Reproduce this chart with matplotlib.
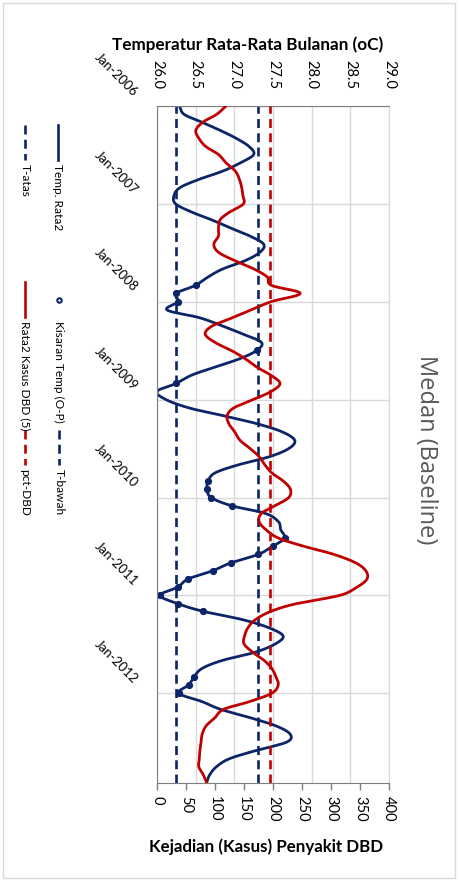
import numpy as np
import pandas as pd
import matplotlib
matplotlib.use("Agg")
import matplotlib.pyplot as plt
import matplotlib.dates as mdates
import matplotlib.transforms as mtrans
from matplotlib.lines import Line2D
from matplotlib.patches import Rectangle

plt.rcParams['font.family'] = ['Lato', 'DejaVu Sans']

# %% data
bulan = pd.date_range('2006-01-01', '2012-12-01', freq='MS')

temp_rata2 = [
    26.29, 26.35, 26.57, 26.81, 27.02, 27.19, 27.25, 27.08, 26.85, 26.55, 26.30, 26.22,  # 2006
    26.24, 26.45, 26.70, 26.95, 27.20, 27.38, 27.33, 27.14, 26.85, 26.66, 26.50, 26.25,  # 2007
    26.27, 26.13, 26.55, 26.85, 27.11, 27.35, 27.29, 27.07, 26.75, 26.45, 26.25, 26.00,  # 2008
    26.12, 26.42, 26.85, 27.30, 27.62, 27.78, 27.71, 27.46, 27.05, 26.75, 26.66, 26.65,  # 2009
    26.70, 26.97, 27.40, 27.57, 27.60, 27.65, 27.50, 27.31, 26.96, 26.72, 26.40, 26.27,  # 2010
    26.04, 26.27, 26.59, 27.10, 27.44, 27.63, 27.53, 27.27, 26.84, 26.58, 26.48, 26.41,  # 2011
    26.28, 26.58, 26.82, 27.20, 27.53, 27.72, 27.68, 27.29, 26.94, 26.77, 26.68, 26.64,  # 2012
]

kasus_dbd = [
    119, 103, 80, 67, 72, 84, 106, 119, 135, 142, 146, 148,
    149, 125, 109, 106, 106, 98, 106, 134, 167, 190, 197, 247,
    197, 162, 130, 95, 83, 100, 128, 152, 172, 196, 212, 197,
    165, 132, 121, 124, 134, 143, 160, 176, 186, 198, 218, 230,
    227, 203, 180, 176, 188, 209, 252, 305, 342, 360, 362, 345,
    315, 240, 197, 170, 157, 151, 150, 165, 185, 198, 205, 209,
    198, 160, 115, 100, 85, 78, 76, 74, 73, 72, 80, 86,
]

kisaran_bulan = ['2007-11', '2007-12', '2008-01', '2008-07', '2008-11',
                 '2009-11', '2009-12', '2010-01', '2010-02', '2010-06',
                 '2010-07', '2010-08', '2010-09', '2010-10', '2010-11',
                 '2010-12', '2011-01', '2011-02', '2011-03', '2011-11',
                 '2011-12', '2012-01']
kisaran_temp = [26.50, 26.25, 26.27, 27.29, 26.25,
                26.66, 26.65, 26.70, 26.97, 27.65,
                27.50, 27.31, 26.96, 26.72, 26.40,
                26.27, 26.04, 26.27, 26.59, 26.48,
                26.41, 26.28]

t_atas = 27.3
t_bawah = 26.25
pct_dbd = 195

temp_ticks = [26.0, 26.5, 27.0, 27.5, 28.0, 28.5, 29.0]
kasus_ticks = [0, 50, 100, 150, 200, 250, 300, 350, 400]
tahun_ticks = pd.date_range('2006-01-01', '2012-01-01', freq='YS')
tahun_labels = [d.strftime('Jan-%Y') for d in tahun_ticks]

NAVY = '#0B2566'
RED = '#C00000'
GRID = '#D9D9D9'
SPINE = '#7F7F7F'


def smooth(vals, pos, n=10):
    # catmull-rom, like excel's "smoothed line"
    p = np.asarray(vals, float)
    q = np.asarray(pos, float)
    s = np.linspace(0, 1, n, endpoint=False)
    h00 = 2 * s**3 - 3 * s**2 + 1
    h10 = s**3 - 2 * s**2 + s
    h01 = -2 * s**3 + 3 * s**2
    h11 = s**3 - s**2
    out = []
    for arr in (p, q):
        m = np.gradient(arr)
        seg = [arr[i] * h00 + m[i] * h10 + arr[i + 1] * h01 + m[i + 1] * h11
               for i in range(len(arr) - 1)]
        out.append(np.concatenate(seg + [arr[-1:]]))
    return out


# %% figure
W, H = 460, 886
fig = plt.figure(figsize=(W / 100, H / 100), dpi=100)


def fx(x):
    return x / W


def fy(y):
    return 1 - y / H


L, R, T, B = 157, 389, 106, 783
ax_t = fig.add_axes([fx(L), fy(B), (R - L) / W, (B - T) / H])
ax_c = ax_t.twiny()

ynum = mdates.date2num(bulan)
ax_t.set_xlim(26, 29)
ax_c.set_xlim(0, 400)
ax_t.set_ylim(ynum[-1], ynum[0])

# grid
ax_t.set_xticks(temp_ticks)
ax_t.set_yticks(mdates.date2num(tahun_ticks))
ax_t.grid(True, color=GRID, lw=1)
ax_t.set_axisbelow(True)

# temperature series
tx, ty = smooth(temp_rata2, ynum)
ax_t.plot(tx, ty, color=NAVY, lw=2.0, solid_capstyle='round')
ax_t.plot(kisaran_temp, mdates.date2num(pd.to_datetime(kisaran_bulan)), 'o',
          color=NAVY, ms=4.2)
ax_t.axvline(t_atas, color=NAVY, lw=1.9, dashes=(3.4, 2.0))
ax_t.axvline(t_bawah, color=NAVY, lw=1.9, dashes=(3.4, 2.0))

# dbd series
cx, cy = smooth(kasus_dbd, ynum)
ax_c.plot(cx, cy, color=RED, lw=2.0, solid_capstyle='round')
ax_c.axvline(pct_dbd, color=RED, lw=1.9, dashes=(3.4, 2.0))

# axes styling
ax_t.xaxis.tick_top()
ax_t.tick_params(axis='x', length=0, pad=12, labelsize=10.5, labelrotation=-90)
ax_t.set_xticklabels([f'{v:.1f}' for v in temp_ticks])
ax_t.tick_params(axis='y', left=False, labelleft=False)
ax_c.xaxis.tick_bottom()
ax_c.set_xticks(kasus_ticks)
ax_c.tick_params(axis='x', length=5, width=1, color=SPINE, pad=4,
                 labelsize=10.5, labelrotation=-90)

for sp in ('top', 'left'):
    ax_t.spines[sp].set_color(SPINE)
ax_t.spines['right'].set_color(GRID)
ax_t.spines['bottom'].set_visible(False)
for sp in ('top', 'left', 'right'):
    ax_c.spines[sp].set_visible(False)
ax_c.spines['bottom'].set_color(SPINE)

# date labels, diagonal
lbl_tr = mtrans.offset_copy(mtrans.blended_transform_factory(ax_t.transAxes, ax_t.transData),
                            fig=fig, x=-21, y=12, units='dots')
for d, lab in zip(tahun_ticks, tahun_labels):
    ax_t.text(0, mdates.date2num(d), lab, transform=lbl_tr, rotation=-45,
              rotation_mode='anchor', ha='right', va='center', fontsize=9.5,
              clip_on=False)

# titles
fig.text(fx(248), fy(45), 'Temperatur Rata-Rata Bulanan (oC)', ha='center', va='center',
         fontsize=12.3, fontweight='bold')
fig.text(fx(266), fy(847), 'Kejadian (Kasus) Penyakit DBD', ha='center', va='center',
         fontsize=12.2, fontweight='bold')
fig.text(fx(426), fy(450), 'Medan (Baseline)', rotation=-90, ha='center', va='center',
         fontsize=17, color='#595959', family=['Open Sans', 'DejaVu Sans'])

# legend, drawn by hand because it is rotated
legend_items = [
    (58, 125, 'line', NAVY, 'Temp. Rata2'),
    (25, 125, 'dash', NAVY, 'T-atas'),
    (59, 282, 'dot', NAVY, 'Kisaran Temp (O-P)'),
    (25, 282, 'line', RED, 'Rata2 Kasus DBD (5)'),
    (59, 430, 'dash', NAVY, 'T-bawah'),
    (25, 430, 'dash', RED, 'pct-DBD'),
]
for x, y, kind, col, lab in legend_items:
    if kind == 'dot':
        fig.add_artist(Line2D([fx(x)], [fy(y + 18)], marker='o', ms=3.3,
                              color=col, markerfacecolor='#DDE3F0', mew=1.4))
    else:
        fig.add_artist(Line2D([fx(x), fx(x)], [fy(y), fy(y + 35)], color=col, lw=1.9,
                              dashes=(3.4, 2.0) if kind == 'dash' else (None, None)))
    fig.text(fx(x), fy(y + 39), lab, rotation=-90, ha='center', va='top', fontsize=8.6)

fig.add_artist(Rectangle((fx(3), fy(878)), fx(452), (875) / H, transform=fig.transFigure,
                         fill=False, edgecolor=GRID, lw=1))

fig.savefig('out.png', dpi=100)
